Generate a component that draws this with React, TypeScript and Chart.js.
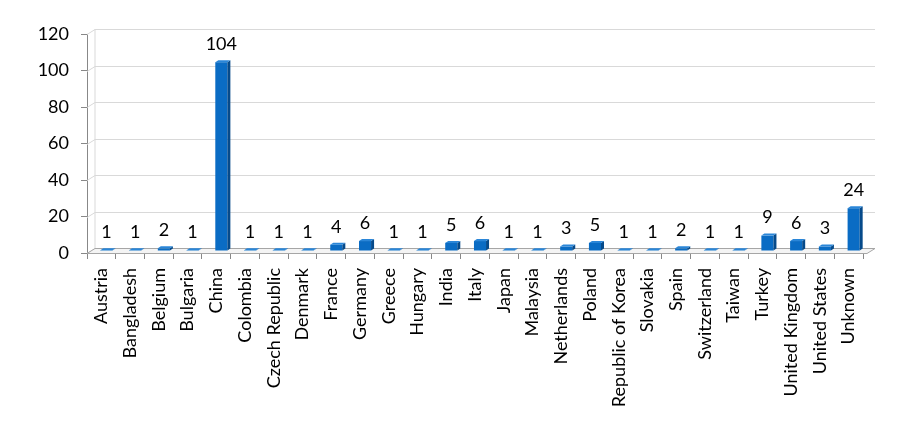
import React, { useEffect, useRef } from "react";
import { Chart, registerables } from "chart.js";

Chart.register(...registerables);

const categories = [
  "Austria", "Bangladesh", "Belgium", "Bulgaria", "China", "Colombia", "Czech Republic",
  "Denmark", "France", "Germany", "Greece", "Hungary", "India", "Italy", "Japan",
  "Malaysia", "Netherlands", "Poland", "Republic of Korea", "Slovakia", "Spain",
  "Switzerland", "Taiwan", "Turkey", "United Kingdom", "United States", "Unknown",
];
const values = [1, 1, 2, 1, 104, 1, 1, 1, 4, 6, 1, 1, 5, 6, 1, 1, 3, 5, 1, 1, 2, 1, 1, 9, 6, 3, 24];
const yMin = 0;
const yMax = 120;
const yStep = 20;

const DX = 8;
const DY = 5;

const wall3d = {
  id: "wall3d",
  beforeDatasetsDraw(chart: any) {
    const { ctx, chartArea } = chart;
    const ys = chart.scales.y;
    const { left, right, bottom } = chartArea;
    ctx.save();
    ctx.strokeStyle = "#d9d9d9";
    ctx.lineWidth = 1;
    ys.ticks.forEach((t: any) => {
      const py = Math.round(ys.getPixelForValue(t.value)) + 0.5;
      ctx.beginPath();
      ctx.moveTo(left, py);
      ctx.lineTo(left + DX, py - DY);
      ctx.lineTo(right + DX + 4, py - DY);
      ctx.stroke();
    });
    ctx.beginPath();
    ctx.moveTo(left + DX, ys.getPixelForValue(yMax) - DY);
    ctx.lineTo(left + DX, bottom - DY);
    ctx.stroke();
    ctx.strokeStyle = "#a6a6a6";
    ctx.fillStyle = "#f4f4f4";
    ctx.beginPath();
    ctx.moveTo(left, bottom + 0.5);
    ctx.lineTo(left + DX, bottom - DY + 0.5);
    ctx.lineTo(right + DX + 4, bottom - DY + 0.5);
    ctx.lineTo(right + 4, bottom + 0.5);
    ctx.closePath();
    ctx.fill();
    ctx.stroke();
    ctx.restore();
  },
};

const bars3d = {
  id: "bars3d",
  afterDatasetsDraw(chart: any) {
    const { ctx } = chart;
    const meta = chart.getDatasetMeta(0);
    ctx.save();
    meta.data.forEach((bar: any, i: number) => {
      const p = bar.getProps(["x", "y", "base", "width"], true);
      const w = p.width;
      const fx = p.x + 5 - w / 2;
      const top = p.y - 1;
      const bot = p.base - 2;
      const d = 3;
      const dd = 2;
      ctx.fillStyle = "#0a6cc4";
      ctx.fillRect(fx, top, w, bot - top);
      ctx.fillStyle = "#064a8a";
      ctx.beginPath();
      ctx.moveTo(fx + w, top);
      ctx.lineTo(fx + w + d, top - dd);
      ctx.lineTo(fx + w + d, bot - dd);
      ctx.lineTo(fx + w, bot);
      ctx.closePath();
      ctx.fill();
      ctx.fillStyle = "#2a86d8";
      ctx.beginPath();
      ctx.moveTo(fx, top);
      ctx.lineTo(fx + d, top - dd);
      ctx.lineTo(fx + w + d, top - dd);
      ctx.lineTo(fx + w, top);
      ctx.closePath();
      ctx.fill();
      ctx.fillStyle = "#000000";
      ctx.font = "18px Lato";
      ctx.textAlign = "center";
      ctx.textBaseline = "middle";
      ctx.fillText(String(values[i]), p.x + 5, p.y - 19);
    });
    ctx.restore();
  },
};

export default function App() {
  const ref = useRef<HTMLCanvasElement>(null);
  useEffect(() => {
    const chart = new Chart(ref.current!, {
      type: "bar",
      data: {
        labels: categories,
        datasets: [
          {
            data: values,
            backgroundColor: "rgba(0,0,0,0)",
            borderWidth: 0,
            barPercentage: 0.42,
            categoryPercentage: 1,
          },
        ],
      },
      plugins: [wall3d, bars3d],
      options: {
        animation: false,
        responsive: false,
        maintainAspectRatio: false,
        layout: { padding: { top: 34, right: 59, left: 0, bottom: 0 } },
        plugins: { legend: { display: false }, tooltip: { enabled: false } },
        scales: {
          x: {
            offset: true,
            grid: {
              offset: true,
              drawOnChartArea: false,
              drawTicks: true,
              tickLength: 6,
              color: "#888888",
            },
            border: { display: false },
            ticks: {
              autoSkip: false,
              maxRotation: 90,
              minRotation: 90,
              color: "#000000",
              font: { family: "Lato", size: 18 },
              padding: 9,
            },
            afterFit: (s: any) => {
              s.height = 171;
            },
          },
          y: {
            min: yMin,
            max: yMax,
            grid: {
              drawOnChartArea: false,
              drawTicks: true,
              tickLength: 6,
              color: "#888888",
            },
            border: { display: true, color: "#888888" },
            ticks: {
              stepSize: yStep,
              color: "#000000",
              font: { family: "Lato", size: 18 },
              padding: 12,
            },
            afterFit: (s: any) => {
              s.width = 87;
            },
          },
        },
      },
    });
    return () => chart.destroy();
  }, []);
  return (
    <div style={{ position: "absolute", left: 0, top: 0, width: 922, height: 424, background: "#fff" }}>
      <canvas ref={ref} width={922} height={424} style={{ width: 922, height: 424 }} />
    </div>
  );
}
